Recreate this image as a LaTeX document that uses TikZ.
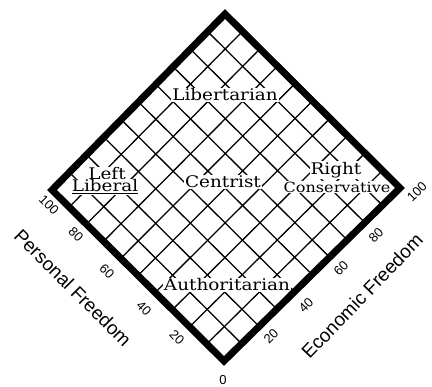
\documentclass[tikz,border=0pt]{standalone}
\usepackage{fontspec}
\setmainfont{DejaVu Serif}
\newfontfamily\regionfont{DejaVu Serif}[FakeStretch=1.15]
\newfontfamily\axisfont{Liberation Sans}
\usetikzlibrary{calc}
\begin{document}
\begin{tikzpicture}[x=1pt,y=1pt,
  gridline/.style={line width=1.3pt},
  frame/.style={line width=7pt, line join=miter},
  region/.style={fill=white, inner sep=1pt, font=\regionfont\fontsize{16}{16}\selectfont},
  smallregion/.style={region, font=\regionfont\fontsize{14}{14}\selectfont},
  tick/.style={font=\axisfont\fontsize{13}{13}\selectfont, inner sep=0pt},
  axislabel/.style={font=\axisfont\fontsize{19}{19}\selectfont, inner sep=0pt}]
\useasboundingbox[fill=white] (0,0) rectangle (432,387);
\coordinate (B) at (224,26);
\coordinate (L) at (52,197);
\coordinate (R) at (400,199);
\coordinate (T) at (225,373);
\foreach \i in {1,...,9}{
  \pgfmathsetmacro\f{\i/10}
  \draw[gridline] ($(B)!\f!(L)$) -- ($(R)!\f!(T)$);
  \draw[gridline] ($(B)!\f!(R)$) -- ($(L)!\f!(T)$);
}
\node[region] (lib) at (225,292) {Libertarian};
\node[region] (left) at (107,213) {Left};
\node[region] (liberal) at (105,200) {\underline{Liberal}};
\node[region] (cen) at (223,205) {Centrist};
\node[region] (right) at (336,217) {Right};
\node[smallregion] (cons) at (337,200) {Conservative};
\node[region] (auth) at (227,102) {Authoritarian};
\draw[frame] (T) -- (L) -- (B) -- (R) -- cycle;
\node[tick, rotate=-45] (p100) at (49,182) {100};
\node[tick, rotate=-45] (p80) at (76,153) {80};
\node[tick, rotate=-45] (p60) at (107,116) {60};
\node[tick, rotate=-45] (p40) at (144,79) {40};
\node[tick, rotate=-45] (p20) at (177,50) {20};
\node[tick] (zero) at (223,7) {0};
\node[tick, rotate=45] (e100) at (417,195) {100};
\node[tick, rotate=45] (e80) at (376,152) {80};
\node[tick, rotate=45] (e60) at (341,119) {60};
\node[tick, rotate=45] (e40) at (306,82) {40};
\node[tick, rotate=45] (e20) at (271,51) {20};
\node[axislabel, rotate=-45] (pf) at (73,99) {Personal Freedom};
\node[axislabel, rotate=46] (ef) at (362,91) {Economic Freedom};
\end{tikzpicture}
\end{document}
